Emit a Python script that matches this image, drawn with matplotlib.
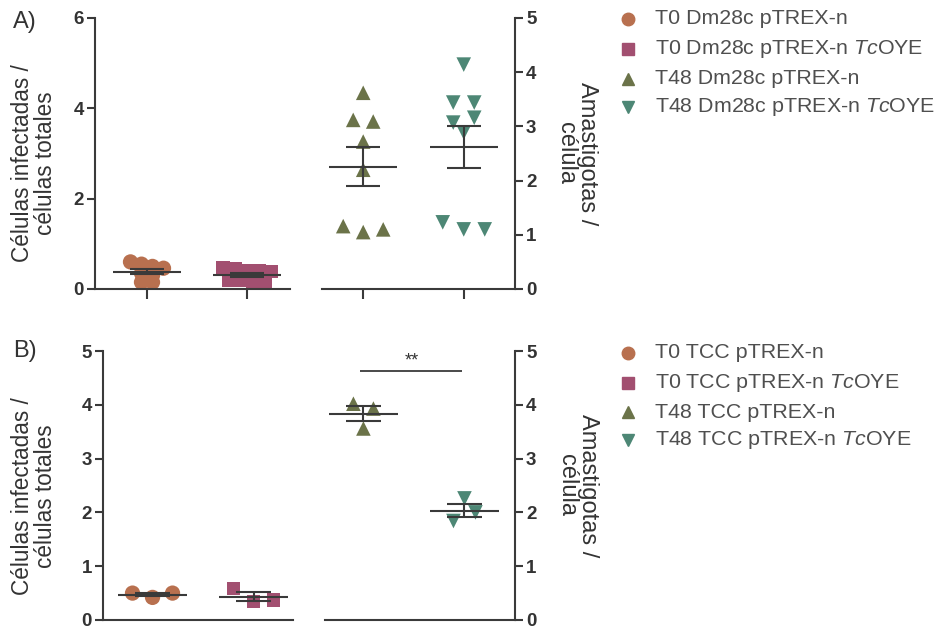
import matplotlib
matplotlib.use('Agg')
import matplotlib.pyplot as plt
import numpy as np
from matplotlib.lines import Line2D

plt.rcParams['font.family'] = ['Liberation Sans', 'DejaVu Sans']
plt.rcParams['mathtext.fontset'] = 'custom'
plt.rcParams['mathtext.it'] = 'Liberation Sans:italic'
plt.rcParams['mathtext.rm'] = 'Liberation Sans'

# ---------------- data ----------------
a_t0_ctrl = [0.60, 0.55, 0.50, 0.46, 0.35, 0.30, 0.15, 0.15]
a_t0_oye = [0.48, 0.45, 0.40, 0.40, 0.38, 0.18, 0.18, 0.15, 0.15]
a_t48_ctrl = [3.62, 3.12, 3.09, 2.72, 2.20, 1.16, 1.05, 1.10]
a_t48_oye = [4.14, 3.44, 3.44, 3.07, 3.16, 2.89, 1.23, 1.10, 1.10]
b_t0_ctrl = [0.50, 0.42, 0.50]
b_t0_oye = [0.59, 0.35, 0.37]
b_t48_ctrl = [4.02, 3.93, 3.56]
b_t48_oye = [1.84, 2.00, 2.26]

legend_a = ["T0 Dm28c pTREX-n", r"T0 Dm28c pTREX-n $\it{Tc}$OYE",
            "T48 Dm28c pTREX-n", r"T48 Dm28c pTREX-n $\it{Tc}$OYE"]
legend_b = ["T0 TCC pTREX-n", r"T0 TCC pTREX-n $\it{Tc}$OYE",
            "T48 TCC pTREX-n", r"T48 TCC pTREX-n $\it{Tc}$OYE"]
left_ylabel = "Células infectadas /\ncélulas totales"
right_ylabel = "Amastigotas /\ncélula"
sig_label = "**"

colors = ['#b8704f', '#a24f70', '#6b7349', '#4d8775']
markers = ['o', 's', '^', 'v']
msizes = [11, 9.5, 10.5, 10.5]
line_col = '#3a3a3a'
text_col = '#4f4f4f'

fig = plt.figure(figsize=(9.38, 6.3), dpi=100)
W, H = 938, 630


def add_ax(x0, x1, ytop, ybot):
    return fig.add_axes([x0 / W, 1 - ybot / H, (x1 - x0) / W, (ybot - ytop) / H])


def row_offsets(ax, xc, vals, row_px, spacing_px):
    """GraphPad-like scatter: points with similar values share a row, spread evenly."""
    sx = ax.transData.transform([(1, 0)])[0][0] - ax.transData.transform([(0, 0)])[0][0]
    sy = ax.transData.transform([(0, 1)])[0][1] - ax.transData.transform([(0, 0)])[0][1]
    vals = np.asarray(vals)
    order = sorted(range(len(vals)), key=lambda i: -vals[i])
    rows = []
    for i in order:
        if rows and (vals[rows[-1][0]] - vals[i]) * sy <= row_px:
            rows[-1].append(i)
        else:
            rows.append([i])
    xs = np.zeros(len(vals))
    for r in rows:
        r = sorted(r)
        n = len(r)
        for j, i in enumerate(r):
            xs[i] = xc + (j - (n - 1) / 2) * spacing_px / sx
    return xs


def group(ax, xc, vals, k, row_px, spacing_px, mean_half=0.34, cap_half=0.17):
    vals = np.asarray(vals)
    xs = row_offsets(ax, xc, vals, row_px, spacing_px)
    ax.scatter(xs, vals, marker=markers[k], s=msizes[k] ** 2, color=colors[k],
               edgecolors='none', zorder=2, clip_on=False)
    m = vals.mean()
    sem = vals.std(ddof=1) / np.sqrt(len(vals))
    ax.hlines(m, xc - mean_half, xc + mean_half, color=line_col, lw=1.5, zorder=3)
    ax.hlines([m - sem, m + sem], xc - cap_half, xc + cap_half, color=line_col, lw=1.5, zorder=3)
    ax.vlines(xc, m - sem, m + sem, color=line_col, lw=1.5, zorder=3)


def style(ax, side, ylim, yticks, xlim, xticks):
    ax.set_xlim(*xlim)
    ax.set_ylim(*ylim)
    ax.set_yticks(yticks)
    for s in ['top', 'left', 'right', 'bottom']:
        ax.spines[s].set_visible(False)
    ax.spines['bottom'].set_visible(True)
    ax.spines[side].set_visible(True)
    for s in ax.spines.values():
        s.set_linewidth(1.5)
        s.set_color(line_col)
    if side == 'right':
        ax.yaxis.tick_right()
    ax.tick_params(axis='y', length=6, width=1.5, color=line_col, pad=2,
                   labelsize=13.5, labelcolor='#333333')
    for lab in ax.get_yticklabels():
        lab.set_fontweight('bold')
    ax.set_xticks(xticks)
    ax.set_xticklabels([])
    ax.tick_params(axis='x', length=7, width=1.5, color=line_col)
    ax.patch.set_alpha(0)


# ---------------- row A ----------------
axA1 = add_ax(95, 290, 18, 289)
style(axA1, 'left', (0, 6), [0, 2, 4, 6], (-0.52, 1.43), [0, 1])
axA2 = add_ax(322, 515, 18, 289)
style(axA2, 'right', (0, 5), [0, 1, 2, 3, 4, 5], (-0.41, 1.51), [0, 1])

# ---------------- row B ----------------
axB1 = add_ax(103, 293, 351, 620)
style(axB1, 'left', (0, 5), [0, 1, 2, 3, 4, 5], (-0.49, 1.39), [])
axB2 = add_ax(325, 515, 351, 620)
style(axB2, 'right', (0, 5), [0, 1, 2, 3, 4, 5], (-0.38, 1.50), [])

group(axA1, 0, a_t0_ctrl, 0, 7, 11)
group(axA1, 1, a_t0_oye, 1, 7, 12)
group(axA2, 0, a_t48_ctrl, 2, 13, 20)
group(axA2, 1, a_t48_oye, 3, 13, 21)
group(axB1, 0, b_t0_ctrl, 0, 13, 20)
group(axB1, 1, b_t0_oye, 1, 13, 20)
group(axB2, 0, b_t48_ctrl, 2, 13, 20)
group(axB2, 1, b_t48_oye, 3, 13, 22)

# significance
axB2.hlines(4.63, -0.03, 0.98, color=line_col, lw=1.3)
axB2.text(0.475, 4.66, sig_label, ha='center', va='bottom', fontsize=13, color='#333333')

# labels
for ax, xf, yf in [(axA1, -0.313, 0.463), (axB1, -0.363, 0.459)]:
    ax.text(xf, yf, left_ylabel, transform=ax.transAxes, rotation=90, ha='center',
            va='center', fontsize=16.3, color='#333333', linespacing=0.95,
            rotation_mode='anchor')
for ax, xf, yf in [(axA2, 1.32, 0.50), (axB2, 1.33, 0.50)]:
    ax.text(xf, yf, right_ylabel, transform=ax.transAxes, rotation=270, ha='center',
            va='center', fontsize=17, color='#333333', linespacing=0.95,
            rotation_mode='anchor')

fig.text(13 / W, 1 - 22 / H, "A)", fontsize=17, ha='left', va='center', color='#333333')
fig.text(13 / W, 1 - 351 / H, "B)", fontsize=17, ha='left', va='center', color='#333333')


# legends
def legend(labels, ys):
    for k, (lab, y) in enumerate(zip(labels, ys)):
        fig.add_artist(Line2D([628 / W], [1 - y / H], marker=markers[k], color=colors[k],
                              markersize=8.5 if k != 0 else 9, linestyle='none',
                              transform=fig.transFigure))
        fig.text(655 / W, 1 - y / H, lab, fontsize=15.4, ha='left', va='center',
                 color=text_col)


legend(legend_a, [19, 49, 79, 107])
legend(legend_b, [353, 383, 412, 440])

fig.savefig('out.png', dpi=100)
